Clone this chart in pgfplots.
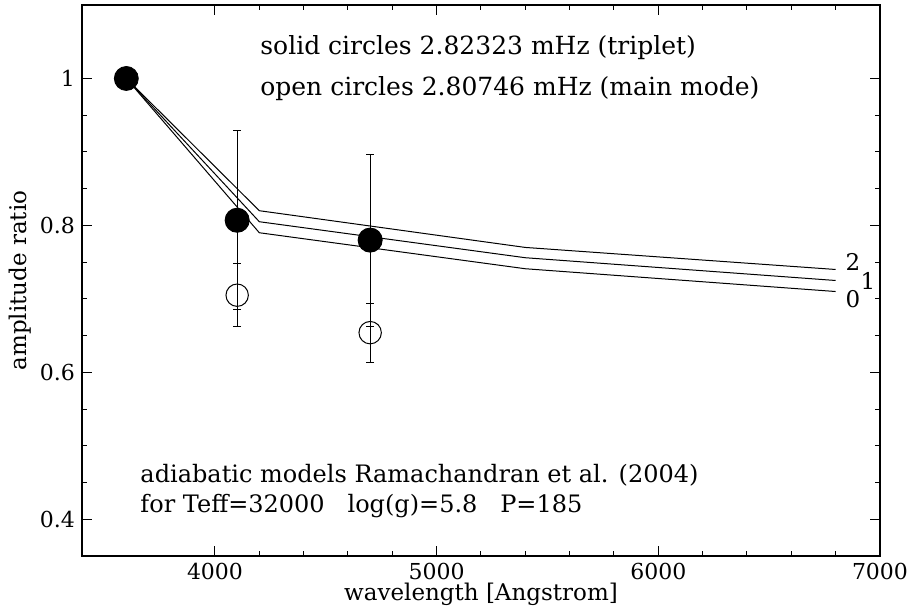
\documentclass[border=0pt]{standalone}
\usepackage{fontspec}
\setmainfont{DejaVu Serif}
\usepackage{pgfplots}
\pgfplotsset{compat=1.18}
\begin{document}
\begin{tikzpicture}
\useasboundingbox (-41pt,-27pt) rectangle (415pt,278pt);
\begin{axis}[
  scale only axis, width=399pt, height=275.5pt,
  xmin=3400, xmax=7000, ymin=0.35, ymax=1.1,
  xtick={4000,5000,6000,7000}, ytick={0.4,0.6,0.8,1},
  minor x tick num=4, minor y tick num=3,
  tick align=inside, major tick length=5pt, minor tick length=2.5pt,
  every tick/.style={black, line width=0.5pt},
  axis line style={line width=0.6pt},
  scaled x ticks=false,
  /pgf/number format/1000 sep={},
  /pgf/number format/assume math mode=true,
  tick label style={font=\fontsize{11}{13}\selectfont},
  xlabel={wavelength [Angstrom]}, ylabel={amplitude ratio},
  label style={font=\fontsize{11.5}{13}\selectfont},
  xlabel style={at={(axis description cs:0.5,-0.07)}, anchor=center},
  ylabel style={at={(axis description cs:-0.0777,0.5)}, anchor=center},
  clip=false,
]
% model curves, l = 0, 1, 2
\addplot[black, line width=0.5pt] coordinates {(3600,1.0) (4200,0.790) (5400,0.741) (6800,0.710)};
\addplot[black, line width=0.5pt] coordinates {(3600,1.0) (4200,0.805) (5400,0.756) (6800,0.725)};
\addplot[black, line width=0.5pt] coordinates {(3600,1.0) (4200,0.820) (5400,0.770) (6800,0.740)};

% open circles: main mode
\addplot[black, line width=0.5pt, only marks, mark=o, mark size=5.6pt,
  error bars/.cd, y dir=both, y explicit,
  error mark options={rotate=90, mark size=2pt, line width=0.5pt}]
  coordinates {(4100,0.705) +- (0,0.043) (4700,0.654) +- (0,0.040)};

% solid circles: triplet
\addplot[black, line width=0.5pt, only marks, mark=*, mark size=6pt,
  error bars/.cd, y dir=both, y explicit,
  error mark options={rotate=90, mark size=2pt, line width=0.5pt}]
  coordinates {(4100,0.807) +- (0,0.122) (4700,0.780) +- (0,0.117)};
\addplot[black, only marks, mark=*, mark size=6pt] coordinates {(3600,1.0)};

\begin{scope}[every node/.style={font=\fontsize{11.5}{13}\selectfont, inner sep=0pt}]
\node[anchor=west, font=\fontsize{12.5}{14}\selectfont] at (axis cs:4203,1.042) {solid circles 2.82323 mHz (triplet)};
\node[anchor=west, font=\fontsize{12.5}{14}\selectfont] at (axis cs:4203,0.986) {open circles 2.80746 mHz (main mode)};
\node[anchor=west, font=\fontsize{12}{14}\selectfont] at (axis cs:3662,0.460) {adiabatic models Ramachandran et al. (2004)};
\node[anchor=west, font=\fontsize{12}{14}\selectfont] at (axis cs:3662,0.418) {for Teff=32000\ \ \ log(g)=5.8\ \ \ P=185};
\node at (axis cs:6878,0.750) {2};
\node at (axis cs:6946,0.724) {1};
\node at (axis cs:6878,0.699) {0};
\end{scope}
\end{axis}
\end{tikzpicture}
\end{document}
